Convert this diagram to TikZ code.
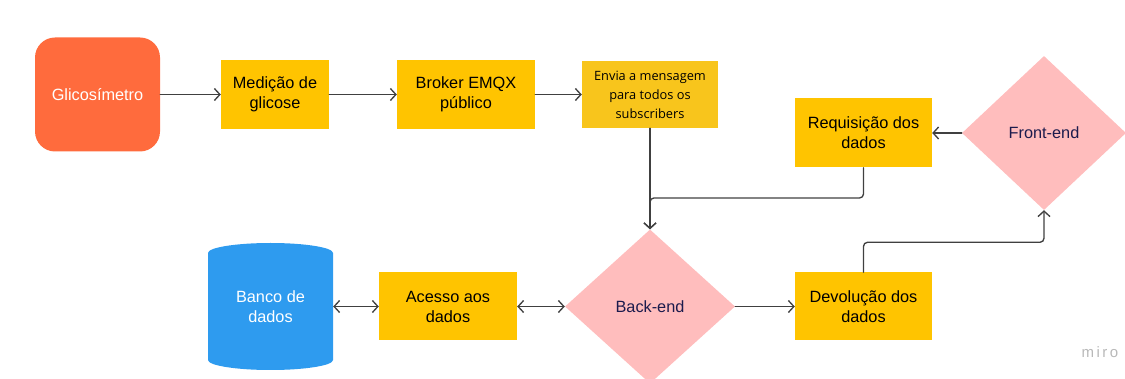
\documentclass[tikz,border=0pt]{standalone}
\usepackage{fontspec}
\setmainfont{Liberation Sans}
\newfontfamily\smallfont{Open Sans}
\usetikzlibrary{arrows.meta,shapes.geometric}

\definecolor{glicored}{HTML}{FF6B3D}
\definecolor{boxyellow}{HTML}{FFC400}
\definecolor{envyellow}{HTML}{F8C51C}
\definecolor{dbblue}{HTML}{2E9BEF}
\definecolor{decpink}{HTML}{FFBDBD}
\definecolor{decnavy}{HTML}{1C1B4D}
\definecolor{linegray}{HTML}{404040}

\tikzset{
  txt/.style={font=\fontsize{16.3}{20}\selectfont, align=center, inner sep=0pt},
  box/.style={txt, fill=boxyellow, text=black},
  term/.style={txt, fill=glicored, text=white, rounded corners=20pt},
  dec/.style={txt, diamond, aspect=1.1, fill=decpink, text=decnavy},
  db/.style={txt, text=white},
  conn/.style={line width=1.35pt, draw=linegray, -{Straight Barb[length=5.5pt,width=12pt]}},
  dconn/.style={line width=1.35pt, draw=linegray, {Straight Barb[length=5.5pt,width=12pt]}-{Straight Barb[length=5.5pt,width=12pt]}}
}

\begin{document}
\begin{tikzpicture}[x=1pt,y=-1pt,line cap=round,line join=round]
\useasboundingbox (0,0) rectangle (1125,379);

% database drum
\fill[dbblue] (208,253) arc (180:360:62.5 and 10) -- (333,360)
  arc (0:180:62.5 and 10) -- cycle;

% top row
\node[term, minimum width=125pt, minimum height=114pt] (gli) at (97.5,94.5) {Glicos\'imetro};
\node[box, minimum width=108pt, minimum height=69pt] (med) at (275,94.5) {Medi\c{c}\~ao de\\glicose};
\node[box, minimum width=138pt, minimum height=69pt] (broker) at (466,94.5) {Broker EMQX\\p\'ublico};
\node[box, fill=envyellow, minimum width=136pt, minimum height=67pt, font=\smallfont\fontsize{12.8}{19}\selectfont] (env) at (650,94.5) {Envia a mensagem\\para todos os\\subscribers};
\node[box, minimum width=137pt, minimum height=69pt] (req) at (863.5,133) {Requisi\c{c}\~ao dos\\dados};
\node[dec, minimum width=164pt, minimum height=154pt] (front) at (1044,133) {Front-end};

% bottom row
\node[db, minimum width=125pt, minimum height=127pt] (banco) at (270.5,306.5) {Banco de\\dados};
\node[box, minimum width=138pt, minimum height=68pt] (acesso) at (448,306.5) {Acesso aos\\dados};
\node[dec, minimum width=170pt, minimum height=154pt] (back) at (650,306.5) {Back-end};
\node[box, minimum width=137pt, minimum height=68pt] (devol) at (863.5,306.5) {Devolu\c{c}\~ao dos\\dados};

\node[font=\fontsize{15}{17}\selectfont, text=black!28] (miro) at (1100,352) {m\,i\,r\,o};

% connectors
\coordinate (join) at (650,198);
\draw[conn] (gli.east) -- (med.west);
\draw[conn] (med.east) -- (broker.west);
\draw[conn] (broker.east) -- (env.west);
\draw[conn] (env.south) -- (back.north);
\draw[conn, rounded corners=4pt] (req.south) |- (join) -- (back.north);
\draw[conn] (front.west) -- (req.east);
\draw[conn] (back.east) -- (devol.west);
\draw[conn, rounded corners=4pt] (devol.north) -- ++(0,-30) -| (front.south);
\draw[dconn] (banco.east) -- (acesso.west);
\draw[dconn] (acesso.east) -- (back.west);
\end{tikzpicture}
\end{document}
